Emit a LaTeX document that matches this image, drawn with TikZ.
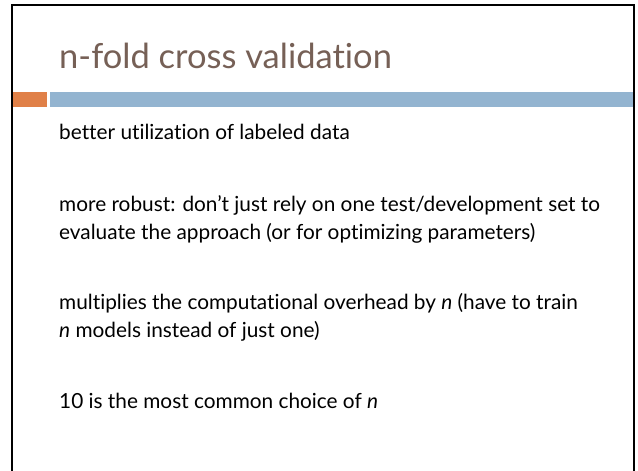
\documentclass[tikz,border=0pt]{standalone}
\usepackage{fontspec}
\setmainfont[Ligatures=NoCommon]{Lato}
\usetikzlibrary{positioning}
\definecolor{titlebrown}{RGB}{118,96,86}
\definecolor{barorange}{RGB}{224,128,72}
\definecolor{barblue}{RGB}{147,180,208}

\begin{document}
\begin{tikzpicture}[x=1pt,y=-1pt]
		\tikzstyle{title} = [anchor=base west,inner sep=0pt,text=titlebrown,font=\fontsize{34.5}{34.5}\selectfont]
		\tikzstyle{item} = [anchor=base west,inner sep=0pt,font=\fontsize{20.8}{20.8}\selectfont]
		\useasboundingbox (0,0) rectangle (638,471);
		% Frame
		\draw[line width=2.4pt] (12,471) -- (12,5) -- (634,5) -- (634,471);
		% Title
		\node[title] at (59,68) (t0) {n-fold cross validation};
		\fill[barorange] (13,92) rectangle (47,107);
		\fill[barblue] (50,92) rectangle (633,107);
		% Item 1
		\node[item] at (59,139) (i1_0) {better utilization of labeled data};
		% Item 2
		\node[item] at (59,211) (i2_0) {more robust: don't just rely on one test/development set to};
		\node[item] at (59,239) (i2_1) {evaluate the approach (or for optimizing parameters)};
		% Item 3
		\node[item] at (59,309) (i3_0) {multiplies the computational overhead by \textit{n} (have to train};
		\node[item] at (59,337) (i3_1) {\textit{n} models instead of just one)};
		% Item 4
		\node[item] at (59,408) (i4_0) {10 is the most common choice of \textit{n}};
		\end{tikzpicture}
\end{document}
